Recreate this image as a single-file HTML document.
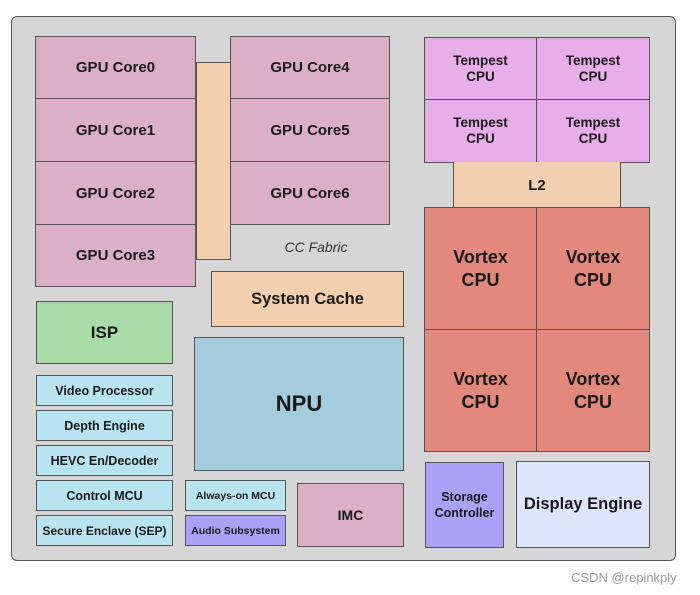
<!DOCTYPE html>
<html><head><meta charset="utf-8"><style>
body{margin:0;width:700px;height:595px;background:#fff;position:relative;overflow:hidden;font-family:"Liberation Sans",Arial,sans-serif;}
.o{position:absolute;left:11px;top:16px;width:665px;height:545px;background:#d6d6d6;border:1.5px solid #555;border-radius:6px;box-sizing:border-box;}
.b{position:absolute;box-sizing:border-box;border:1.5px solid #555;display:flex;align-items:center;justify-content:center;text-align:center;color:#1a1a1a;font-weight:bold;}
.g{background:#dbb0c4;font-size:15px;}
.tp{background:#e8aeea;font-size:13.5px;line-height:16px;}
.vx{background:#e2887c;font-size:18px;line-height:23px;}
.lb{background:#b8e4f0;font-size:12.5px;}
</style></head><body>
<div class="o"></div>
<div class="b" style="left:196px;top:62px;width:35px;height:198px;background:#f2cfae"></div>
<div class="b g" style="left:35px;top:36px;width:161px;height:63px">GPU Core0</div>
<div class="b g" style="left:35px;top:98px;width:161px;height:64px">GPU Core1</div>
<div class="b g" style="left:35px;top:161px;width:161px;height:64px">GPU Core2</div>
<div class="b g" style="left:35px;top:224px;width:161px;height:63px">GPU Core3</div>
<div class="b g" style="left:230px;top:36px;width:160px;height:63px">GPU Core4</div>
<div class="b g" style="left:230px;top:98px;width:160px;height:64px">GPU Core5</div>
<div class="b g" style="left:230px;top:161px;width:160px;height:64px">GPU Core6</div>
<div style="position:absolute;left:258px;top:239px;width:116px;text-align:center;font-style:italic;font-size:14px;color:#333">CC Fabric</div>
<div class="b" style="left:211px;top:271px;width:193px;height:56px;background:#f2cfae;font-size:16.5px">System Cache</div>
<div class="b" style="left:36px;top:301px;width:137px;height:63px;background:#a8dba8;font-size:17px">ISP</div>
<div class="b lb" style="left:36px;top:375px;width:137px;height:31px">Video Processor</div>
<div class="b lb" style="left:36px;top:410px;width:137px;height:31px">Depth Engine</div>
<div class="b lb" style="left:36px;top:445px;width:137px;height:31px">HEVC En/Decoder</div>
<div class="b lb" style="left:36px;top:480px;width:137px;height:31px">Control MCU</div>
<div class="b lb" style="left:36px;top:515px;width:137px;height:31px;font-size:12px">Secure Enclave (SEP)</div>
<div class="b" style="left:194px;top:337px;width:210px;height:134px;background:#a4ccdc;font-size:22px">NPU</div>
<div class="b lb" style="left:185px;top:480px;width:101px;height:31px;font-size:10.5px">Always-on MCU</div>
<div class="b" style="left:185px;top:515px;width:101px;height:31px;font-size:10.5px;background:#a9a2f6">Audio Subsystem</div>
<div class="b" style="left:297px;top:483px;width:107px;height:64px;background:#dbb0c4;font-size:14px">IMC</div>
<div class="b tp" style="left:424px;top:37px;width:113px;height:63px">Tempest<br>CPU</div>
<div class="b tp" style="left:536px;top:37px;width:114px;height:63px">Tempest<br>CPU</div>
<div class="b tp" style="left:424px;top:99px;width:113px;height:64px">Tempest<br>CPU</div>
<div class="b tp" style="left:536px;top:99px;width:114px;height:64px">Tempest<br>CPU</div>
<div class="b" style="left:453px;top:162px;width:168px;height:46px;background:#f2cfae;font-size:15px;border-top:none;border-bottom:none">L2</div>
<div class="b vx" style="left:424px;top:207px;width:113px;height:123px">Vortex<br>CPU</div>
<div class="b vx" style="left:536px;top:207px;width:114px;height:123px">Vortex<br>CPU</div>
<div class="b vx" style="left:424px;top:329px;width:113px;height:123px">Vortex<br>CPU</div>
<div class="b vx" style="left:536px;top:329px;width:114px;height:123px">Vortex<br>CPU</div>
<div class="b" style="left:425px;top:462px;width:79px;height:86px;background:#a9a2f6;font-size:12.5px;line-height:16px">Storage<br>Controller</div>
<div class="b" style="left:516px;top:461px;width:134px;height:87px;background:#dde6fb;font-size:16.5px">Display Engine</div>
<div style="position:absolute;left:571px;top:570px;font-size:13px;color:#999">CSDN @repinkply</div>
</body></html>
